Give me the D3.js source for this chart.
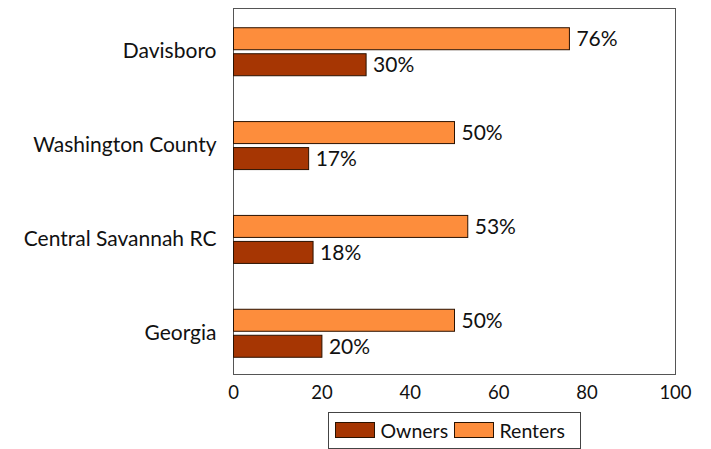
<!DOCTYPE html>
<html>
<head>
<meta charset="utf-8">
<script src="https://cdn.jsdelivr.net/npm/d3@7"></script>
<style>
  body { margin: 0; background: #fff; }
  text { font-family: Lato, "DejaVu Sans", sans-serif; fill: #111; }
</style>
</head>
<body>
<div id="chart"></div>
<script>
var width = 711,
    height = 449;

// data
var places = ['Davisboro', 'Washington County', 'Central Savannah RC', 'Georgia'];
var renters = [76, 50, 53, 50];
var owners = [30, 17, 18, 20];
var xTicks = [0, 20, 40, 60, 80, 100];
var seriesNames = ['Owners', 'Renters'];
var seriesColors = ['#a63603', '#fd8d3c'];

var plot = {left: 233.5, right: 675.5, top: 8.5, bottom: 374.5};

var x = d3.scaleLinear().domain([0, 100]).range([plot.left, plot.right]);
var y = d3.scalePoint().domain(places).range([plot.top, plot.bottom]).padding(0.45);

var barH = 22,
    gap = 4;

var svg = d3.select('#chart')
    .append('svg')
    .attr('width', width)
    .attr('height', height);

// frame
svg.append('rect')
    .attr('x', plot.left)
    .attr('y', plot.top)
    .attr('width', plot.right - plot.left)
    .attr('height', plot.bottom - plot.top)
    .attr('fill', 'none')
    .attr('stroke', '#555')
    .attr('stroke-width', 1);

var rows = places.map(function (p, i) {
    return {place: p, renters: renters[i], owners: owners[i]};
});

function drawSeries(key, color, offset) {
    svg.selectAll('.bar-' + key)
        .data(rows)
        .enter()
        .append('rect')
        .attr('class', 'bar-' + key)
        .attr('x', x(0))
        .attr('y', d => y(d.place) + offset)
        .attr('width', d => x(d[key]) - x(0))
        .attr('height', barH)
        .attr('fill', color)
        .attr('stroke', '#2b1200')
        .attr('stroke-width', 1);

    svg.selectAll('.lab-' + key)
        .data(rows)
        .enter()
        .append('text')
        .attr('class', 'lab-' + key)
        .attr('x', d => x(d[key]) + 7)
        .attr('y', d => y(d.place) + offset + barH / 2)
        .attr('dy', '0.36em')
        .style('font-size', '21px')
        .text(d => d[key] + '%');
}

drawSeries('renters', seriesColors[1], -barH - gap / 2 + 1);
drawSeries('owners', seriesColors[0], gap / 2 + 1);

// category labels
svg.selectAll('.cat')
    .data(places)
    .enter()
    .append('text')
    .attr('class', 'cat')
    .attr('x', plot.left - 17)
    .attr('y', d => y(d))
    .attr('dy', '0.36em')
    .attr('text-anchor', 'end')
    .style('font-size', '21px')
    .text(d => d);

// x tick labels
svg.selectAll('.xt')
    .data(xTicks)
    .enter()
    .append('text')
    .attr('class', 'xt')
    .attr('x', d => x(d))
    .attr('y', plot.bottom + 24)
    .attr('text-anchor', 'middle')
    .style('font-size', '18.5px')
    .text(d => d);

// legend
var legend = svg.append('g').attr('transform', 'translate(328.5,412.5)');
legend.append('rect')
    .attr('width', 252)
    .attr('height', 36)
    .attr('fill', '#fff')
    .attr('stroke', '#444');

var legX = [7, 126];
seriesNames.forEach(function (name, i) {
    legend.append('rect')
        .attr('x', legX[i])
        .attr('y', 10)
        .attr('width', 39)
        .attr('height', 15)
        .attr('fill', seriesColors[i])
        .attr('stroke', '#2b1200');
    legend.append('text')
        .attr('x', legX[i] + 45)
        .attr('y', 18)
        .attr('dy', '0.36em')
        .style('font-size', '19.5px')
        .text(name);
});
</script>
</body>
</html>
